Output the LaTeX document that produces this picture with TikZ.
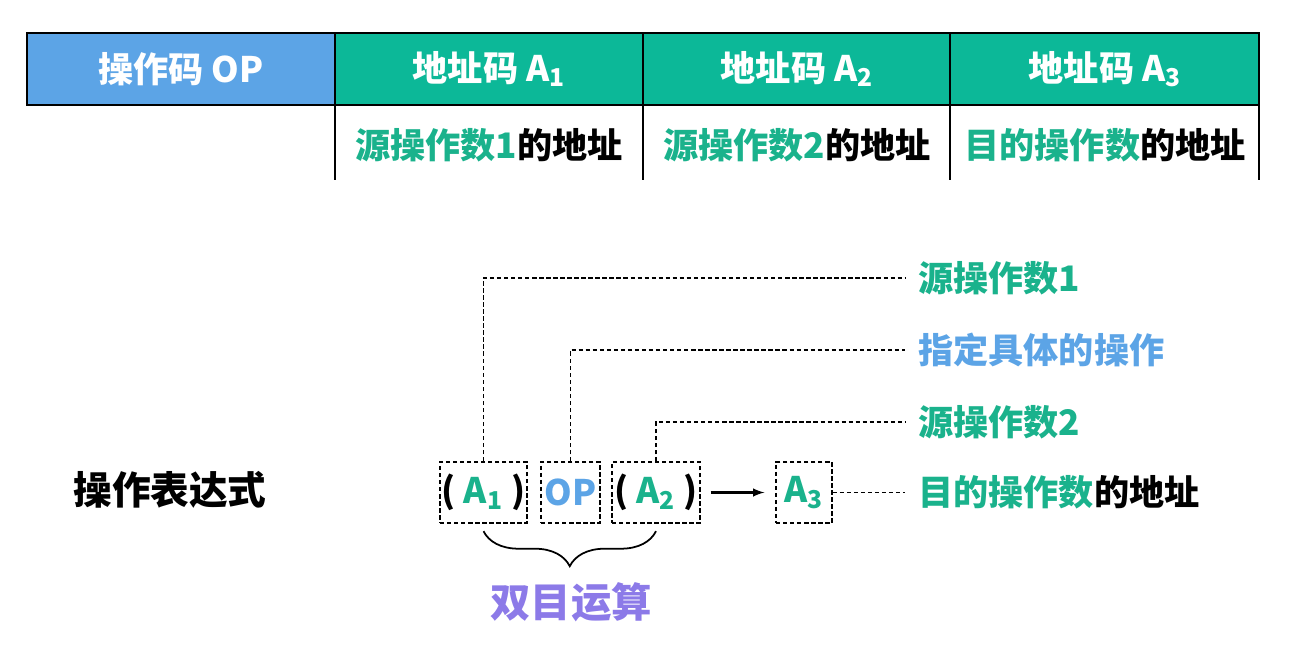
\documentclass[tikz,border=0pt]{standalone}
\usepackage{fontspec}
\setmainfont{Noto Sans CJK SC}
\usetikzlibrary{decorations.pathreplacing}
\definecolor{opblue}{RGB}{92,164,230}
\definecolor{adgreen}{RGB}{12,184,152}
\definecolor{txgreen}{RGB}{26,178,140}
\definecolor{opurple}{RGB}{140,122,232}
\newcommand{\An}[1]{A\textsubscript{#1}}

\begin{document}
\begin{tikzpicture}[x=0.02cm, y=-0.02cm,
    txt/.style={font=\fontsize{20}{24}\selectfont\bfseries, inner sep=0pt},
    hd/.style={txt, text=white},
    box/.style={draw, dash pattern=on 2.5pt off 1.5pt, thick, minimum height=1.22cm, inner sep=0pt, txt},
    lbl/.style={txt, anchor=west, inner xsep=0.26cm},
    link/.style={dash pattern=on 2.5pt off 1.5pt, thick}
]
  \useasboundingbox (0,0) rectangle (1314,658);

  \fill[opblue] (27,33) rectangle (335,105);
  \fill[adgreen] (335,33) rectangle (1259,105);
  \draw[line width=1.6pt] (27,33) rectangle (1259,105);
  \foreach \x in {335,643,950} \draw[line width=1pt] (\x,33) -- (\x,105);
  \foreach \x in {335,643,950,1259} \draw[line width=1.2pt] (\x,105) -- (\x,180);

  \node[hd] (op) at (181,69) {操作码 OP};
  \node[hd] (a1) at (489,69) {地址码 \An1};
  \node[hd] (a2) at (797,69) {地址码 \An2};
  \node[hd] (a3) at (1105,69) {地址码 \An3};

  \node[txt] (s1) at (489,145) {\textcolor{txgreen}{源操作数1}的地址};
  \node[txt] (s2) at (797,145) {\textcolor{txgreen}{源操作数2}的地址};
  \node[txt] (s3) at (1105,145) {\textcolor{txgreen}{目的操作数}的地址};

  \node[txt, font=\fontsize{22}{26}\selectfont\bfseries] (expr) at (170,490) {操作表达式};

  \node[box, minimum width=1.74cm] (b1) at (483.5,492.5) {( \textcolor{txgreen}{\An1} )};
  \node[box, minimum width=1.18cm, text=opblue] (b2) at (570.5,492.5) {OP};
  \node[box, minimum width=1.76cm] (b3) at (656,492.5) {( \textcolor{txgreen}{\An2} )};
  \node[box, minimum width=1.12cm, text=txgreen] (b4) at (804,492.5) {\An3};

  \node[lbl, text=txgreen] (l1) at (905,278) {源操作数1};
  \node[lbl, text=opblue] (l2) at (905,350) {指定具体的操作};
  \node[lbl, text=txgreen] (l3) at (905,422) {源操作数2};
  \node[lbl] (l4) at (905,492.5) {\textcolor{txgreen}{目的操作数}的地址};

  \draw[link] (b1.north) |- (l1.west);
  \draw[link] (b2.north) |- (l2.west);
  \draw[link] (b3.north) |- (l3.west);
  \draw[link] (b4.east) -- (l4.west);
  \draw[line width=1.2pt, -latex, shorten <=0.2cm, shorten >=0.22cm] (b3) -- (b4);

  \draw[line width=1pt, decorate, decoration={brace, mirror, amplitude=0.7cm}]
    ([yshift=-0.15cm]b1.south) -- ([yshift=-0.15cm]b3.south);
  \node[txt, font=\fontsize{23}{27}\selectfont\bfseries, text=opurple] (bin) at (571,602) {双目运算};
\end{tikzpicture}
\end{document}
